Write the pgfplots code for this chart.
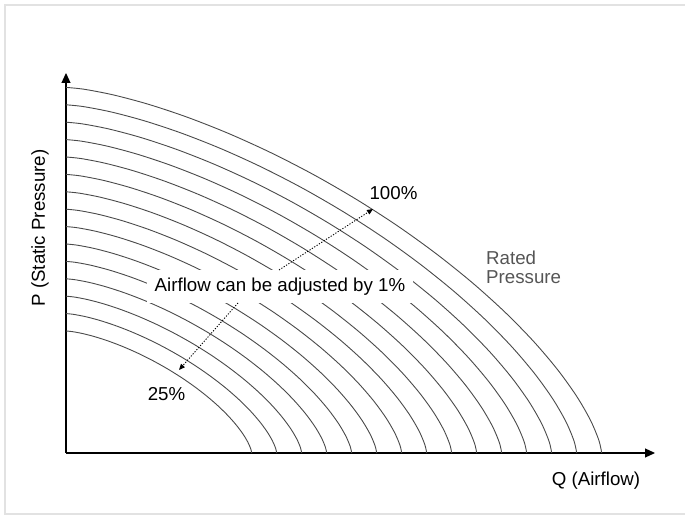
\documentclass[border=0pt]{standalone}
\usepackage{pgfplots}
\pgfplotsset{compat=1.18}
\usepackage{pgfplotstable}
\usetikzlibrary{arrows.meta}
\usepackage{fontspec}
\setmainfont{Liberation Sans}

% unit fan curve (normalised Q, P)
\pgfplotstableread{
u v
1.00000 0.00000
0.99475 0.03454
0.97911 0.08937
0.95331 0.15499
0.91778 0.22764
0.87311 0.30484
0.82004 0.38440
0.75941 0.46458
0.69234 0.54359
0.62003 0.62003
0.54359 0.69234
0.46458 0.75941
0.38440 0.82004
0.30484 0.87311
0.22764 0.91778
0.15499 0.95331
0.08937 0.97911
0.03454 0.99475
0.00000 1.00000
}\unitcurve

\definecolor{curvecol}{HTML}{4A4A4A}
\definecolor{framecol}{HTML}{E2E2E2}
\definecolor{ratedcol}{HTML}{555555}

\begin{document}
\begin{tikzpicture}[x=1pt,y=1pt]
\useasboundingbox (-66,-63) rectangle (619,453);
\draw[line width=2pt, color=framecol] (-60.5,-61.5) rectangle (640,448);
\begin{axis}[
  x=1pt, y=1pt, xmin=0, xmax=589, ymin=0, ymax=380,
  enlargelimits=false,
  axis lines=left, xtick=\empty, ytick=\empty,
  axis line style={line width=1.1pt, -{Triangle[length=10pt,width=9pt]}},
  clip=false,
]
\foreach \rx/\ry in {185.7/122.0, 210.7/139.4, 235.7/156.8, 260.7/174.2, 285.7/191.6,
                     310.7/209.0, 335.7/226.4, 360.7/243.8, 385.7/261.2, 410.7/278.6,
                     435.7/296.0, 460.7/313.4, 485.7/330.8, 510.7/348.2, 535.7/365.6}{
  \edef\temp{\noexpand\addplot[smooth, line width=0.9pt, color=curvecol]
    table[x expr=\noexpand\thisrow{u}*\rx, y expr=\noexpand\thisrow{v}*\ry] {\noexpand\unitcurve};}
  \temp
}
\end{axis}
\fontsize{18.7}{22}\selectfont
\node[fill=white, minimum width=266pt, minimum height=33pt, inner sep=0pt] at (214,166.5) {Airflow can be adjusted by 1\%};
\draw[line width=0.9pt, dash pattern=on 1.2pt off 1.6pt, -{Triangle[length=6pt,width=5pt]}] (213,183) -- (307,244);
\draw[line width=0.9pt, dash pattern=on 1.2pt off 1.6pt, -{Triangle[length=6pt,width=5pt]}] (172,150) -- (113,83);
\node at (327.5,259.5) {100\%};
\node at (100.5,58.5) {25\%};
\node[anchor=base west, inner sep=0pt, text=ratedcol] at (420,188) {Rated};
\node[anchor=base west, inner sep=0pt, text=ratedcol] at (420,169) {Pressure};
\node at (530,-28) {Q (Airflow)};
\node[rotate=90] at (-26,225) {P (Static Pressure)};
\end{tikzpicture}
\end{document}
